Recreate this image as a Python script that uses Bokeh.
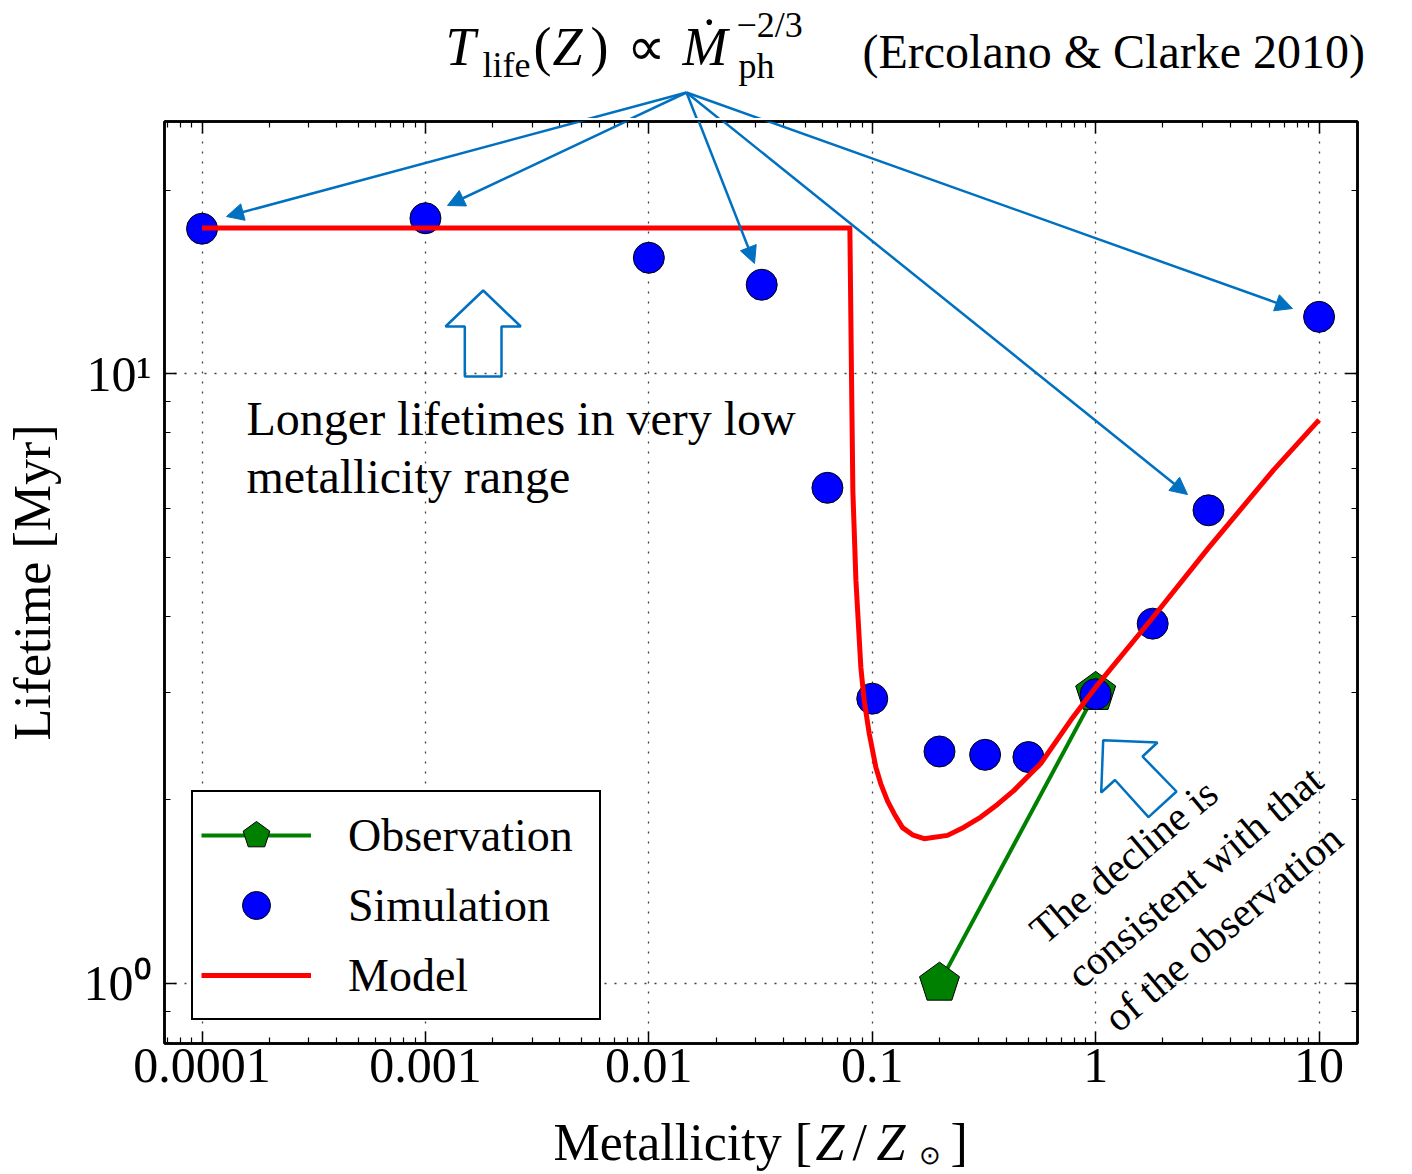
import math
from bokeh.plotting import figure
from bokeh.layouts import column
from bokeh.models import (Range1d, LogAxis, FixedTicker, Label, Arrow, NormalHead,
                          PolyAnnotation, Legend, LegendItem, ColumnDataSource, Ngon,
                          CustomJSTickFormatter)
from bokeh.embed import file_html
from bokeh.resources import INLINE

# ---------------- data ----------------
sim_z = [1e-4, 1e-3, 1e-2, 0.032, 0.063, 0.1, 0.2, 0.32, 0.5, 1.0, 1.8, 3.2, 10.0]
sim_t = [17.3, 18.0, 15.5, 14.0, 6.5, 2.93, 2.40, 2.37, 2.35, 2.98, 3.89, 5.97, 12.4]

obs_z = [0.2, 1.0]
obs_t = [1.0, 3.0]

model_z = [1e-4, 0.0794, 0.0807, 0.0819, 0.0845, 0.0889, 0.0920, 0.0969, 0.1038,
           0.1092, 0.1171, 0.1253, 0.1366, 0.1514, 0.1706, 0.2172, 0.2576, 0.306,
           0.3634, 0.430, 0.568, 0.773, 1.0, 1.762, 3.16, 6.25, 10.0]
model_t = [17.35, 17.35, 10.09, 6.41, 4.58, 3.30, 2.91, 2.57, 2.26,
           2.124, 1.99, 1.897, 1.80, 1.752, 1.726, 1.748, 1.803, 1.873,
           1.965, 2.07, 2.293, 2.70, 3.06, 3.94, 5.15, 6.95, 8.40]

x_ticks = [1e-4, 1e-3, 1e-2, 1e-1, 1.0, 10.0]
x_tick_labels = ["0.0001", "0.001", "0.01", "0.1", "1", "10"]
y_ticks = [1.0, 10.0]
y_tick_labels = ["10\u2070", "10\u00b9"]

# ---------------- page geometry ----------------
W = 1408
HA = 118            # title strip
HB = 990            # main plot
HD = 64             # x-axis title strip
FL, FT, FR, FB = 163, 121, 1357, 1043   # frame edges in page pixels

SERIF = "Liberation Serif"
BLUE_ANN = "#0070c0"
BASE_SHIFT = 0.30   # compensates the renderer's baseline placement (fraction of font size)


def bare_fig(h):
    f = figure(width=W, height=h, x_range=Range1d(0, W), y_range=Range1d(0, h),
               x_axis_location=None, y_axis_location=None, min_border=0,
               toolbar_location=None, output_backend="svg")
    f.frame_align = False
    f.outline_line_color = None
    f.grid.visible = False
    f.background_fill_color = "white"
    f.border_fill_color = "white"
    return f


def add_label(fig, text, x, y, size, italic=False, angle=0, align="left"):
    th = math.radians(angle)
    s = BASE_SHIFT * size
    fig.add_layout(Label(x=x - s * math.sin(th), y=y + s * math.cos(th),
                         x_units="screen", y_units="screen",
                         text=text, text_font=SERIF, text_font_size=f"{size}px",
                         text_font_style="italic" if italic else "normal",
                         text_color="black", text_baseline="alphabetic",
                         text_align=align, angle=angle, angle_units="deg"))


# ================= main plot =================
p = figure(width=W, height=HB, x_axis_type="log", y_axis_type="log",
           x_range=Range1d(10 ** -4.168, 10 ** 1.172),
           y_range=Range1d(10 ** -0.099, 10 ** 1.414),
           output_backend="svg", toolbar_location=None,
           min_border_left=FL, min_border_right=W - FR,
           min_border_top=3, min_border_bottom=65)
p.frame_align = False

p.background_fill_color = "white"
p.border_fill_color = "white"
p.outline_line_color = "black"
p.outline_line_width = 2.5

xminor = [m * 10.0 ** k for k in range(-5, 2) for m in range(2, 10)]
yminor = [m * 10.0 ** k for k in range(-1, 2) for m in range(2, 10)]
xt = FixedTicker(ticks=x_ticks, minor_ticks=xminor)
yt = FixedTicker(ticks=y_ticks, minor_ticks=yminor)


def style_axis(ax):
    ax.major_tick_in = 12
    ax.major_tick_out = 0
    ax.minor_tick_in = 6
    ax.minor_tick_out = 0
    ax.major_tick_line_color = "black"
    ax.minor_tick_line_color = "black"
    ax.major_tick_line_width = 1.5
    ax.minor_tick_line_width = 1.2
    ax.axis_line_color = "black"
    ax.axis_line_width = 2.5
    ax.major_label_text_font = SERIF
    ax.major_label_text_font_size = "50px"
    ax.major_label_text_color = "black"


xa = p.xaxis[0]
xa.ticker = xt
xa.major_label_overrides = dict(zip(x_ticks, x_tick_labels))
xa.major_label_standoff = 5
style_axis(xa)

ya = p.yaxis[0]
ya.ticker = yt
ya.major_label_overrides = dict(zip(y_ticks, y_tick_labels))
ya.major_label_standoff = 13
style_axis(ya)
ya.axis_label = "Lifetime [Myr]"
ya.axis_label_text_font = SERIF
ya.axis_label_text_font_size = "52px"
ya.axis_label_text_font_style = "normal"
ya.axis_label_text_color = "black"
ya.axis_label_standoff = 20

top = LogAxis(ticker=xt, formatter=CustomJSTickFormatter(code="return ''"))
style_axis(top)
top.major_label_text_font_size = "1px"
top.major_label_standoff = 0
p.add_layout(top, "above")
right = LogAxis(ticker=yt, formatter=CustomJSTickFormatter(code="return ''"))
style_axis(right)
right.major_label_text_font_size = "1px"
right.major_label_standoff = 0
p.add_layout(right, "right")

for g, t in ((p.xgrid[0], xt), (p.ygrid[0], yt)):
    g.ticker = t
    g.grid_line_color = "black"
    g.grid_line_alpha = 0.75
    g.grid_line_width = 1.3
    g.grid_line_dash = "2 8"
    g.minor_grid_line_color = None

obs_src = ColumnDataSource(dict(z=obs_z, t=obs_t))
sim_src = ColumnDataSource(dict(z=sim_z, t=sim_t))
mod_src = ColumnDataSource(dict(z=model_z, t=model_t))

r_obs_line = p.line("z", "t", source=obs_src, line_color="#008000", line_width=4)
pent = Ngon(x="z", y="t", radius=21, radius_units="screen", n=5,
            fill_color="#008000", line_color="black", line_width=1)
r_obs_pent = p.add_glyph(obs_src, pent)

r_sim = p.scatter("z", "t", source=sim_src, marker="circle", size=31,
                  fill_color="#0000ff", line_color="black", line_width=1)

r_model = p.line("z", "t", source=mod_src, line_color="#ff0000", line_width=5,
                 line_join="round")

legend = Legend(items=[LegendItem(label="Observation", renderers=[r_obs_line, r_obs_pent]),
                       LegendItem(label="Simulation", renderers=[r_sim]),
                       LegendItem(label="Model", renderers=[r_model])],
                location=(27, 23), margin=0, padding=8, spacing=0,
                glyph_width=110, glyph_height=70, label_height=70,
                label_standoff=37, label_width=243,
                border_line_color="black", border_line_width=2, border_line_alpha=1.0,
                background_fill_color="white", background_fill_alpha=1.0,
                label_text_font=SERIF, label_text_font_size="46px",
                label_text_color="black")
p.add_layout(legend)


def bx(px):
    return px - FL


def by(py):
    return FB - py


apex = (686, 92)
arrow_tips = [(225, 216), (446, 205), (753, 263), (1186, 494), (1291, 308)]
for (ex, ey) in arrow_tips:
    p.add_layout(Arrow(end=NormalHead(size=17, fill_color=BLUE_ANN, line_color=BLUE_ANN, line_width=1),
                       x_start=bx(apex[0]), y_start=by(apex[1]),
                       x_end=bx(ex), y_end=by(ey),
                       start_units="screen", end_units="screen",
                       line_color=BLUE_ANN, line_width=2.5))

up_arrow = [(481.7, 290), (519.3, 326), (500, 326), (500, 376), (463.3, 376), (463.3, 326), (444, 326)]
diag_arrow = [(1101.7, 739.8), (1156, 742), (1141, 756), (1175, 791), (1147, 816.6), (1113.5, 779.5), (1099.7, 792)]
for shape in (up_arrow, diag_arrow):
    p.add_layout(PolyAnnotation(xs=[bx(a) for a, b in shape], ys=[by(b) for a, b in shape],
                                xs_units="screen", ys_units="screen",
                                fill_color=None, fill_alpha=0,
                                line_color=BLUE_ANN, line_alpha=1.0, line_width=2.5))

add_label(p, "Longer lifetimes in very low", bx(245), by(432), 48)
add_label(p, "metallicity range", bx(245), by(490), 48)
add_label(p, "The decline is", bx(1042), by(944), 41, angle=40)
add_label(p, "consistent with that", bx(1079), by(988), 41, angle=40)
add_label(p, "of the observation", bx(1116), by(1032), 41, angle=40)

# ================= title strip =================
A = bare_fig(HA)


def ay(py):
    return HA - py


for (ex, ey) in arrow_tips:
    A.add_layout(Arrow(end=None, x_start=apex[0], y_start=ay(apex[1]),
                       x_end=ex, y_end=ay(ey),
                       start_units="screen", end_units="screen",
                       line_color=BLUE_ANN, line_width=2.5))

add_label(A, "T", 445, ay(63), 54, italic=True)
add_label(A, "life", 482, ay(75), 36)
add_label(A, "(", 533, ay(63), 54)
add_label(A, "Z", 552, ay(63), 54, italic=True)
add_label(A, ")", 590, ay(63), 54)
add_label(A, "\u221d", 626, ay(63), 54)
add_label(A, "\u1e40", 682, ay(63), 54, italic=True)
add_label(A, "\u22122/3", 736, ay(35), 36)
add_label(A, "ph", 738, ay(76), 36)
add_label(A, "(Ercolano & Clarke 2010)", 862, ay(65), 48)

# ================= x-axis title strip =================
D = bare_fig(HD)
D_TOP = HA + HB


def dy(py):
    return HD - (py - D_TOP)


add_label(D, "Metallicity [", 553, dy(1158), 52)
add_label(D, "Z", 815, dy(1158), 52, italic=True)
add_label(D, "/", 852, dy(1158), 52)
add_label(D, "Z", 876, dy(1158), 52, italic=True)
add_label(D, "\u2299", 918, dy(1163), 26)
add_label(D, "]", 950, dy(1158), 52)

layout = column(A, p, D, spacing=0)
open("out.html", "w").write(file_html(layout, INLINE))
